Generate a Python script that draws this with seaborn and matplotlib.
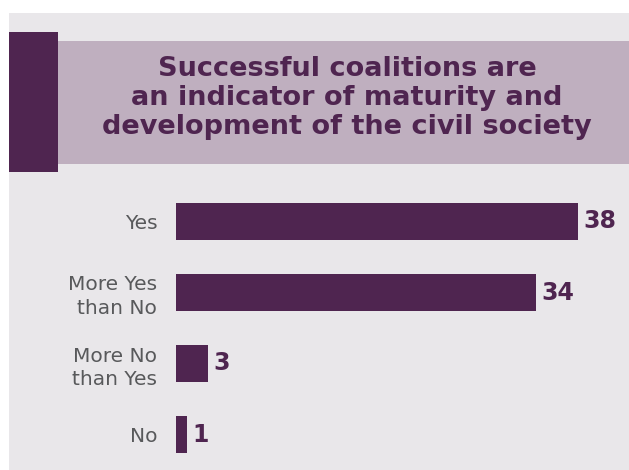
import matplotlib
matplotlib.use("Agg")
import matplotlib.pyplot as plt
from matplotlib.patches import Rectangle
import seaborn as sns
import pandas as pd

# Survey answers and counts
categories = ["Yes", "More Yes\nthan No", "More No\nthan Yes", "No"]
counts = [38, 34, 3, 1]
title = "Successful coalitions are\nan indicator of maturity and\ndevelopment of the civil society"

PURPLE = "#4F2550"
BAND = "#BFAFBF"
PANEL = "#E9E7EA"
LABEL_GREY = "#58595B"

sns.set_theme(style="white")
plt.rcParams["font.family"] = ["DejaVu Sans"]

W, H = 629, 470
fig = plt.figure(figsize=(W / 100, H / 100), dpi=100)
fig.patch.set_facecolor("white")


def px_rect(x0, y0, x1, y1, color, z):
    """Rectangle given in pixel coordinates measured from the top-left corner."""
    fig.patches.append(Rectangle((x0 / W, 1 - y1 / H), (x1 - x0) / W, (y1 - y0) / H,
                                 transform=fig.transFigure, facecolor=color,
                                 edgecolor="none", zorder=z))


# background panel, title band and accent block
px_rect(9, 13, W, H, PANEL, -3)
px_rect(57, 41, W, 164, BAND, -2)
px_rect(9, 32, 58, 172, PURPLE, -1)

fig.text(347 / W, 1 - 98 / H, title, ha="center", va="center",
         fontsize=19.5, fontweight="bold", color=PURPLE, linespacing=1.14)

ax = fig.add_axes([176 / W, 0, (W - 176) / W, (H - 186) / H])
ax.set_facecolor("none")
ax.set_zorder(5)

df = pd.DataFrame({"answer": categories, "count": counts})
sns.barplot(data=df, x="count", y="answer", orient="h", color=PURPLE,
            width=0.52, saturation=1, linewidth=0, ax=ax)
ax.set_xlim(0, (W - 176) / 10.58)
ax.set_ylim(3.5, -0.5)

for cont in ax.containers:
    ax.bar_label(cont, labels=[str(v) for v in counts], padding=4,
                 fontsize=17, fontweight="bold", color=PURPLE)

ax.set_xlabel("")
ax.set_ylabel("")
ax.set_xticks([])
ax.tick_params(axis="y", length=0, pad=13.5, labelsize=14.5, labelcolor=LABEL_GREY)
for lbl in ax.get_yticklabels():
    lbl.set_linespacing(1.3)
    lbl.set_horizontalalignment("right")
sns.despine(ax=ax, left=True, bottom=True)

fig.savefig("out.png", dpi=100)
